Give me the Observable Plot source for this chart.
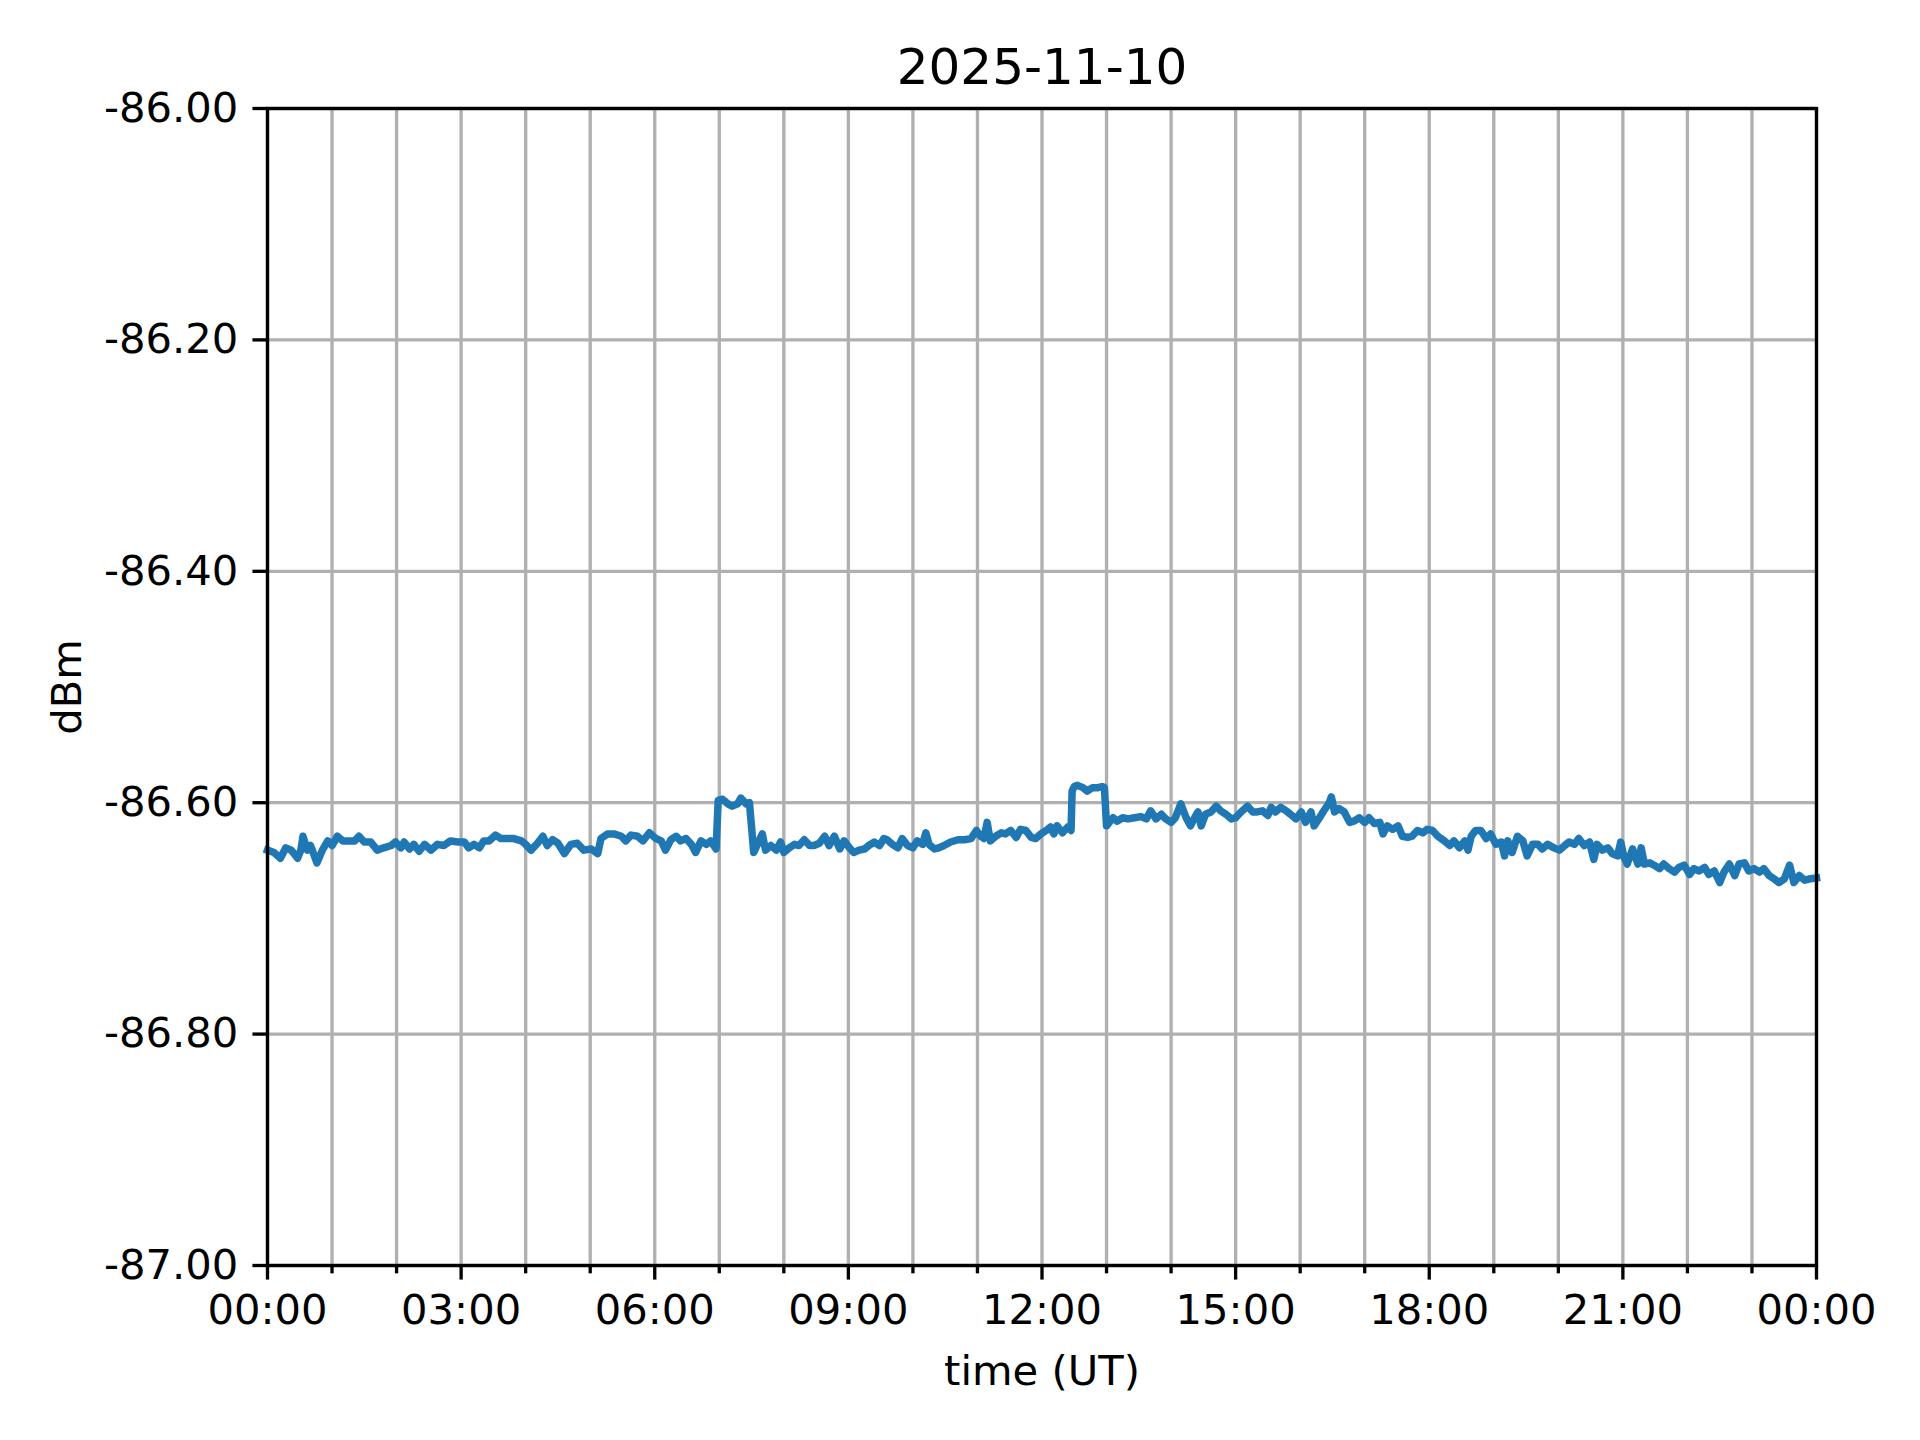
<!DOCTYPE html>
<html>
<head>
<meta charset="utf-8">
<script src="https://cdn.jsdelivr.net/npm/d3@7"></script>
<script src="https://cdn.jsdelivr.net/npm/@observablehq/plot@0.6"></script>
<style>
  html, body { margin: 0; padding: 0; background: white; }
  #chart svg { display: block; }
</style>
</head>
<body>
<div id="chart"></div>
<script>
// ---- Data ----
const chartTitle = "2025-11-10";
const xLabel = "time (UT)";
const yLabel = "dBm";
const dayStartUTC = [2025, 10, 10]; // year, month index, day

// Minutes after 00:00 UT
const timeMinutes = [
  0, 6, 12, 17, 22, 28, 31, 33, 37, 40, 46, 51, 56, 60, 65, 70, 74, 81, 85, 90,
  96, 102, 108, 115, 119, 124, 127, 132, 136, 141, 146, 152, 158, 164, 170, 177, 183, 187, 192, 197,
  201, 206, 212, 217, 223, 229, 236, 240, 245, 251, 256, 260, 265, 270, 276, 282, 288,
  294, 301, 307, 310, 316, 322, 329, 333, 338, 344, 349, 355, 361, 366, 370, 375, 380, 384, 389,
  394, 398, 403, 408, 412, 417, 419, 423, 428, 432, 437, 440, 445, 448, 450, 452, 457, 460, 463, 468,
  473, 477, 480, 485, 490, 494, 499, 504, 508, 513, 518, 522, 527, 532, 536, 541, 545, 550, 555, 559,
  564, 569, 573,
  576, 581, 586, 590, 595, 600, 604, 609, 612, 615, 620, 624, 629, 635, 642, 648, 654, 659, 663, 666,
  669, 672, 677, 682, 686, 691, 696, 700, 705, 710, 714, 719, 724, 728, 731, 734, 739, 744, 747, 748,
  750, 753, 758, 762, 767, 772, 776, 778, 780, 786, 790, 795, 800, 806, 812, 817, 821, 826, 831, 835,
  840, 844, 849, 854, 858, 863,
  865, 868, 872, 877, 882, 886, 891, 896, 900, 905, 911, 916, 920, 925, 930, 933, 937, 942, 947, 951,
  956, 961, 965, 970, 973, 978, 982, 987, 989, 992, 996, 1001, 1006, 1010, 1015, 1020, 1024, 1029, 1034, 1037,
  1041, 1046, 1051, 1055, 1060, 1064, 1069, 1074, 1078, 1083, 1088, 1094, 1099, 1103, 1108, 1113, 1116, 1119, 1123, 1128,
  1133, 1137, 1142, 1147, 1150, 1153,
  1157, 1162, 1167, 1171, 1176, 1181, 1185, 1190, 1196, 1201, 1206, 1210, 1215, 1219, 1224, 1229, 1233, 1236, 1241, 1246,
  1250, 1255, 1258, 1261, 1264, 1269, 1274, 1277, 1280, 1285, 1289, 1294, 1298, 1303, 1308, 1312, 1317, 1322, 1326, 1331,
  1336, 1340, 1345, 1350, 1354, 1359, 1364, 1368, 1373, 1377, 1382, 1387, 1391, 1396, 1401, 1405, 1410, 1415, 1419, 1424,
  1429, 1433, 1440
];

// Received power, dBm
const powerDbm = [
  -86.641, -86.643, -86.648, -86.639, -86.641, -86.648, -86.641, -86.629, -86.641, -86.637, -86.652, -86.641, -86.633, -86.637, -86.629, -86.633, -86.633, -86.633, -86.629, -86.634,
  -86.634, -86.641, -86.639, -86.637, -86.634, -86.639, -86.634, -86.640, -86.636, -86.642, -86.636, -86.641, -86.636, -86.637, -86.633, -86.634, -86.634, -86.639, -86.636, -86.639,
  -86.633, -86.633, -86.628, -86.631, -86.631, -86.631, -86.633, -86.636, -86.641, -86.635, -86.629, -86.637, -86.632, -86.635, -86.644, -86.636, -86.635,
  -86.641, -86.640, -86.644, -86.631, -86.627, -86.627, -86.629, -86.633, -86.628, -86.629, -86.633, -86.626, -86.631, -86.633, -86.641, -86.632, -86.629, -86.633, -86.631,
  -86.636, -86.643, -86.633, -86.636, -86.633, -86.640, -86.598, -86.597, -86.601, -86.603, -86.601, -86.596, -86.601, -86.600, -86.621, -86.643, -86.633, -86.627, -86.641, -86.637,
  -86.641, -86.634, -86.643, -86.639, -86.636, -86.637, -86.632, -86.637, -86.637, -86.635, -86.629, -86.637, -86.629, -86.640, -86.633, -86.639, -86.643, -86.641, -86.640, -86.637,
  -86.634, -86.637, -86.631,
  -86.632, -86.636, -86.639, -86.631, -86.637, -86.639, -86.633, -86.636, -86.626, -86.636, -86.640, -86.639, -86.637, -86.634, -86.632, -86.632, -86.631, -86.624, -86.629, -86.631,
  -86.617, -86.633, -86.629, -86.626, -86.627, -86.624, -86.630, -86.623, -86.624, -86.630, -86.631, -86.627, -86.624, -86.621, -86.627, -86.620, -86.626, -86.621, -86.624, -86.590,
  -86.586, -86.585, -86.587, -86.590, -86.587, -86.587, -86.586, -86.587, -86.620, -86.613, -86.616, -86.613, -86.614, -86.613, -86.612, -86.614, -86.607, -86.614, -86.610, -86.614,
  -86.617, -86.613, -86.601, -86.613, -86.620, -86.611,
  -86.608, -86.620, -86.610, -86.608, -86.603, -86.607, -86.610, -86.614, -86.613, -86.608, -86.603, -86.608, -86.608, -86.607, -86.611, -86.604, -86.608, -86.604, -86.607, -86.610,
  -86.614, -86.608, -86.617, -86.608, -86.620, -86.613, -86.607, -86.600, -86.595, -86.608, -86.605, -86.608, -86.617, -86.616, -86.613, -86.617, -86.613, -86.618, -86.617, -86.627,
  -86.620, -86.623, -86.620, -86.629, -86.630, -86.629, -86.624, -86.626, -86.623, -86.624, -86.629, -86.633, -86.637, -86.633, -86.639, -86.633, -86.641, -86.629, -86.624, -86.624,
  -86.631, -86.627, -86.636, -86.634, -86.646, -86.633,
  -86.643, -86.629, -86.633, -86.646, -86.636, -86.636, -86.640, -86.636, -86.639, -86.641, -86.637, -86.634, -86.636, -86.631, -86.637, -86.634, -86.649, -86.636, -86.641, -86.639,
  -86.644, -86.646, -86.634, -86.647, -86.653, -86.640, -86.653, -86.639, -86.653, -86.652, -86.654, -86.657, -86.653, -86.657, -86.660, -86.656, -86.654, -86.662, -86.657, -86.659,
  -86.656, -86.662, -86.659, -86.669, -86.660, -86.653, -86.663, -86.653, -86.652, -86.659, -86.657, -86.660, -86.657, -86.663, -86.666, -86.669, -86.666, -86.654, -86.669, -86.663,
  -86.667, -86.666, -86.665
];

// Axes
const yDomain = [-87.0, -86.0];
const yTicks = [-87.0, -86.8, -86.6, -86.4, -86.2, -86.0];
const majorTickHours = [0, 3, 6, 9, 12, 15, 18, 21, 24];
const minorTickHours = [1, 2, 4, 5, 7, 8, 10, 11, 13, 14, 16, 17, 19, 20, 22, 23];

// ---- Build ----
const toDate = (minutes) => new Date(Date.UTC(dayStartUTC[0], dayStartUTC[1], dayStartUTC[2], 0, minutes));
const series = timeMinutes.map((m, i) => ({time: toDate(m), dbm: powerDbm[i]}));
const majorTicks = majorTickHours.map(h => toDate(h * 60));
const minorTicks = minorTickHours.map(h => toDate(h * 60));
const allHourTicks = majorTicks.concat(minorTicks);

const pt = 300 / 72; // matplotlib figure at 300 dpi
const fontPx = 10 * pt;
const gridColor = "#b0b0b0";

const chart = Plot.plot({
  width: 1920,
  height: 1440,
  marginLeft: 267,
  marginRight: 104,
  marginTop: 108,
  marginBottom: 175,
  style: {fontFamily: "'DejaVu Sans', sans-serif", fontSize: `${fontPx}px`, background: "white", color: "black"},
  x: {type: "utc", domain: [toDate(0), toDate(1440)]},
  y: {domain: yDomain},
  marks: [
    Plot.ruleX(allHourTicks, {stroke: gridColor, strokeWidth: 0.8 * pt}),
    Plot.ruleY(yTicks, {stroke: gridColor, strokeWidth: 0.8 * pt}),
    Plot.line(series, {x: "time", y: "dbm", stroke: "#1f77b4", strokeWidth: 7.5, strokeLinejoin: "round", strokeLinecap: "square"}),
    Plot.frame({stroke: "black", strokeWidth: 0.8 * pt}),
    Plot.axisY({ticks: yTicks, tickFormat: d => d.toFixed(2), tickSize: 3.5 * pt, tickPadding: 3.5 * pt, strokeWidth: 0.8 * pt, fontSize: fontPx, label: null}),
    Plot.axisX({ticks: majorTicks, tickFormat: d => (d.getTime() === toDate(1440).getTime() ? "00:00" : d3.utcFormat("%H:%M")(d)), tickSize: 3.5 * pt, tickPadding: 3.5 * pt, strokeWidth: 0.8 * pt, fontSize: fontPx, label: null}),
    Plot.axisX({ticks: minorTicks, tickFormat: () => "", tickSize: 2 * pt, strokeWidth: 0.8 * pt, label: null}),
    Plot.text([chartTitle], {frameAnchor: "top", dy: -6 * pt, textAnchor: "middle", lineAnchor: "bottom", fontSize: 12 * pt, fill: "black"}),
    Plot.text([xLabel], {frameAnchor: "bottom", dy: 106, textAnchor: "middle", lineAnchor: "middle", fontSize: fontPx, fill: "black"}),
    Plot.text([yLabel], {frameAnchor: "left", dx: -200, rotate: -90, textAnchor: "middle", lineAnchor: "middle", fontSize: fontPx, fill: "black"})
  ]
});

document.getElementById("chart").appendChild(chart);
</script>
</body>
</html>
